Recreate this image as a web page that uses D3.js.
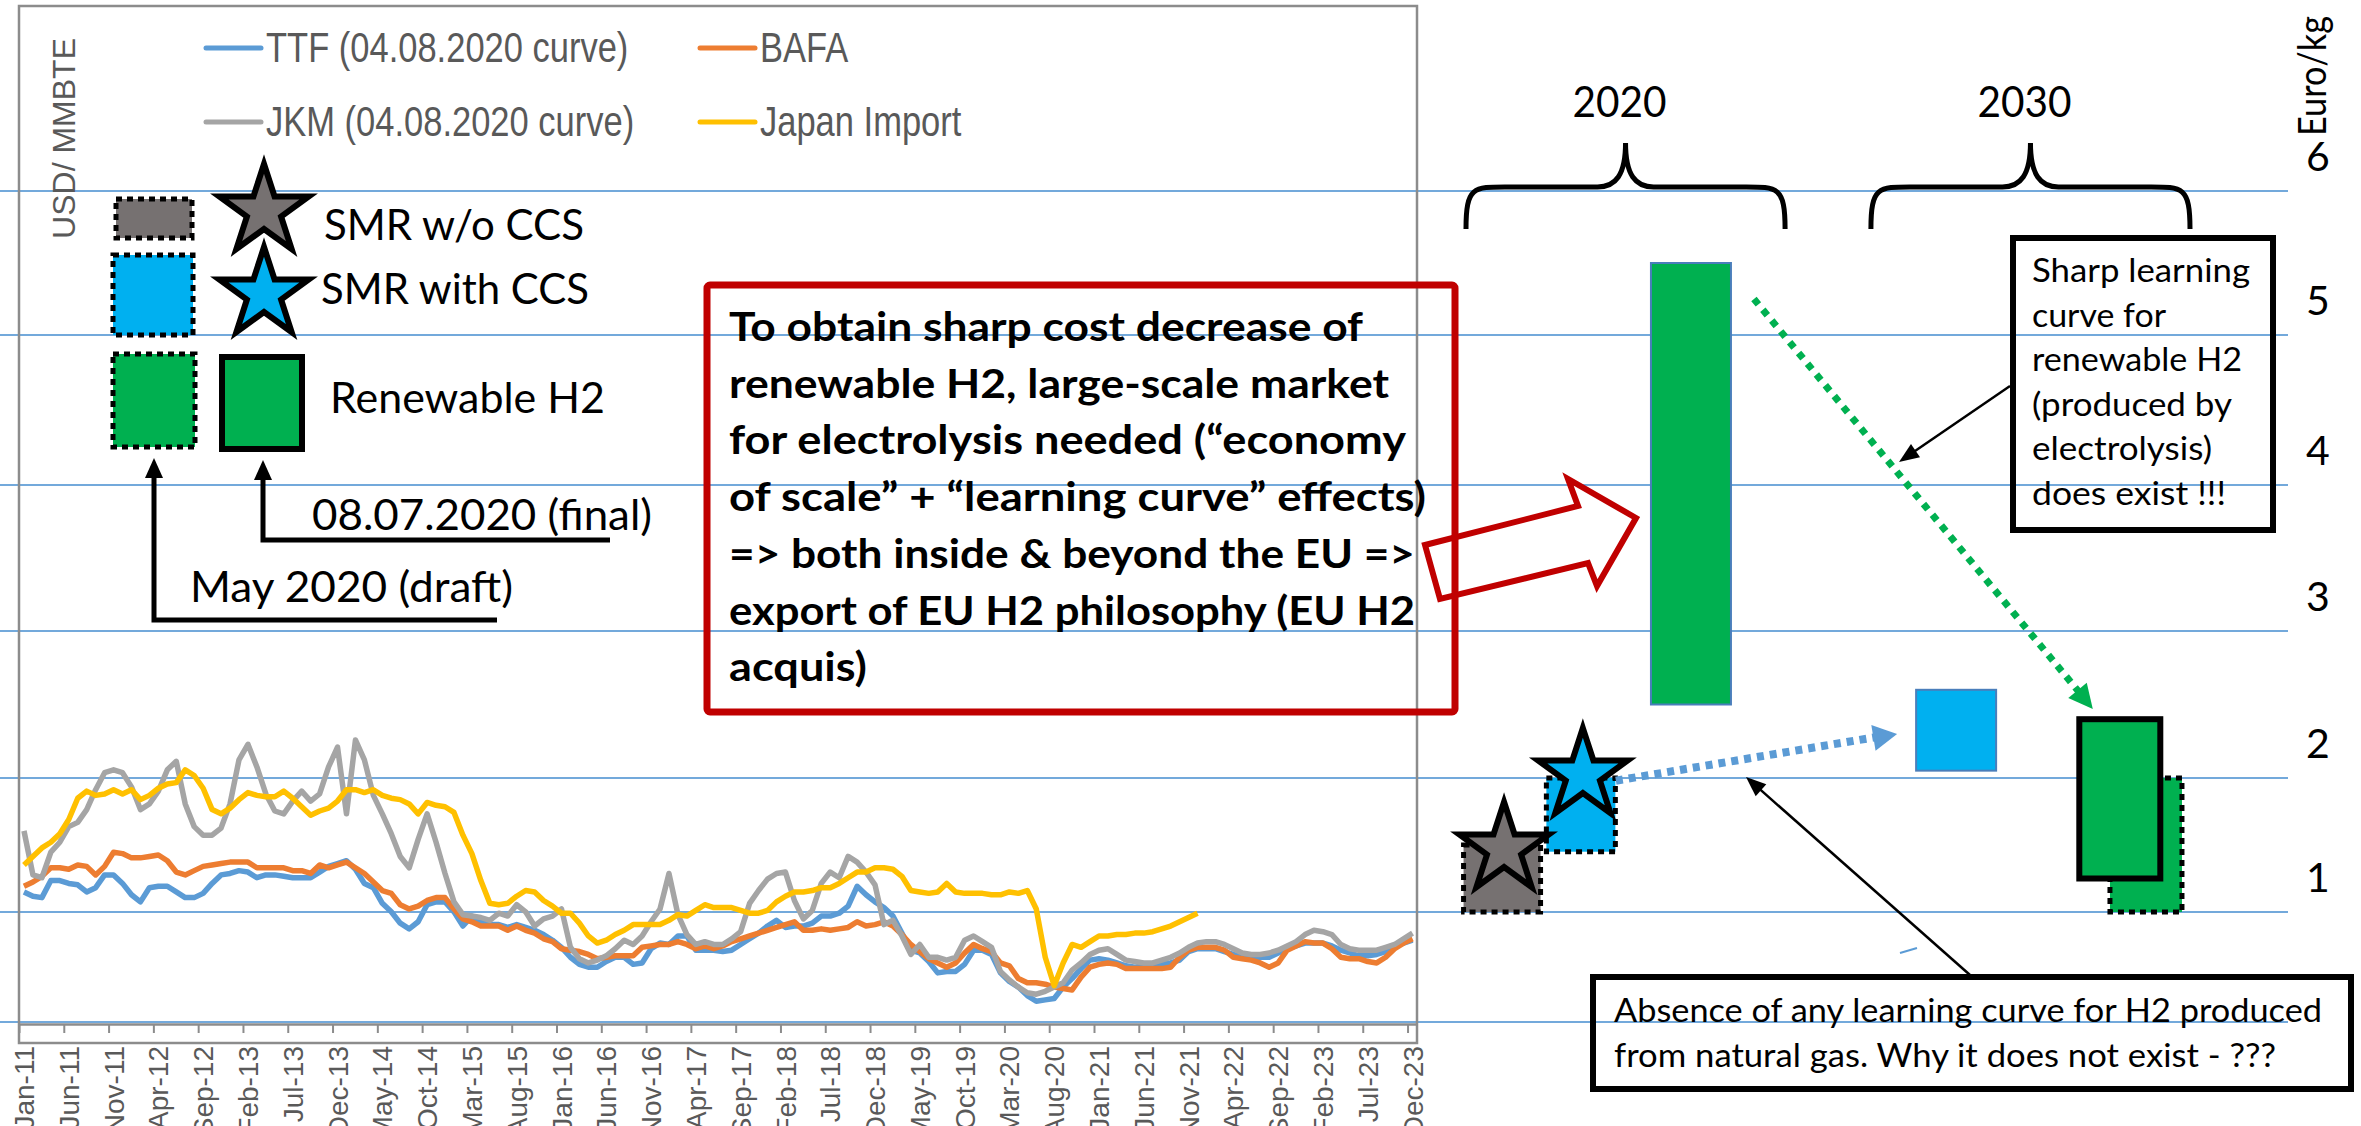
<!DOCTYPE html>
<html>
<head>
<meta charset="utf-8">
<script src="https://cdnjs.cloudflare.com/ajax/libs/d3/7.8.5/d3.min.js"></script>
<style>
  body { margin: 0; background: #fff; }
</style>
</head>
<body>
<div id="chart-area"></div>
<script>
/*
*    Gas prices (USD/MMBTU) vs. hydrogen cost ranges (Euro/kg)
*/

/* Data */
var monthNames = ["Jan","Feb","Mar","Apr","May","Jun","Jul","Aug","Sep","Oct","Nov","Dec"];
var tickLabels = ["Jan-11","Jun-11","Nov-11","Apr-12","Sep-12","Feb-13","Jul-13","Dec-13","May-14","Oct-14",
  "Mar-15","Aug-15","Jan-16","Jun-16","Nov-16","Apr-17","Sep-17","Feb-18","Jul-18","Dec-18","May-19","Oct-19",
  "Mar-20","Aug-20","Jan-21","Jun-21","Nov-21","Apr-22","Sep-22","Feb-23","Jul-23","Dec-23"];

// USD/MMBTU, monthly Jan-11 .. Dec-23
var ttf = [9.3,9.0,8.9,10.1,10.1,9.9,9.8,9.3,9.6,10.5, 10.5,9.9,9.1,8.6,9.6,9.7,9.7,9.3,8.9,8.9,
  9.2,9.9,10.5,10.6,10.8,10.7,10.3,10.5,10.5,10.4, 10.3,10.3,10.3,10.7,11.1,11.3,11.5,10.9,9.9,9.6,
  8.5,7.9,7.1,6.7,7.2,8.4,8.6,8.6,7.9,6.9, 7.6,7.2,7.0,7.0,6.8,7.0,
  6.8,6.6,6.3,5.9,5.4,4.7,4.2,4.0,4.0,4.4, 4.7,4.7,4.2,4.3,5.3,5.7,5.6,6.2,6.2,5.2,
  5.2,5.2,5.1,5.2,5.6,6.0,6.4,6.9,7.3,6.8, 6.9,6.9,7.1,7.6,7.6,7.8,8.3,9.7,9.1,8.6,
  8.2,7.6,6.4,5.2,5.0,4.4,3.6,3.7,3.7,4.2, 5.2,5.2,
  4.9,3.6,3.0,2.6,2.0,1.6,1.7,1.8,2.6,3.2, 3.9,4.5,4.6,4.5,4.3,4.1,4.0,4.1,4.2,4.2,
  4.3,4.5,5.1,5.3,5.3,5.3,5.1,4.9,4.7,4.7, 4.7,4.7,5.0,5.3,5.5,5.7,5.7,5.7,5.5,5.2,
  5.0,4.8,4.8,4.9,5.1,5.5,5.7,5.9];
var bafa = [9.7,10.0,10.4,11.0,11.0,10.9,11.2,11.1,10.5,11.1, 12.1,12.0,11.7,11.7,11.8,11.9,11.5,10.7,10.5,10.8,
  11.1,11.2,11.3,11.4,11.4,11.4,11.0,11.0,11.0,11.0, 10.8,10.8,10.6,11.2,11.0,11.2,11.4,11.0,10.6,10.0,
  9.4,9.2,8.4,8.1,8.3,8.7,8.9,8.9,8.1,7.4, 7.2,6.9,6.9,6.9,6.6,6.9,
  6.6,6.4,6.0,5.8,5.3,5.2,5.1,4.9,4.6,4.7, 4.8,4.8,4.8,5.4,5.5,5.6,5.6,5.8,5.6,5.3,
  5.5,5.3,5.5,5.8,6.0,6.2,6.4,6.6,6.8,7.0, 7.2,6.6,6.6,6.7,6.6,6.7,6.8,7.2,6.9,7.0,
  7.2,6.9,6.3,5.6,5.1,4.6,4.3,4.0,4.3,5.0, 5.6,5.3,
  5.1,4.3,4.1,3.2,2.9,2.9,2.8,2.6,2.5,2.4, 3.3,4.0,4.2,4.3,4.2,3.9,3.9,3.9,3.9,3.9,
  4.0,4.7,5.2,5.4,5.4,5.4,5.2,4.7,4.6,4.5, 4.3,4.0,4.3,5.2,5.5,5.8,5.7,5.7,5.3,4.7,
  4.6,4.6,4.4,4.3,4.7,5.3,5.7,6.0];
var jkm = [13.6,10.5,10.3,12.1,12.8,13.9,14.2,15.1,16.5,17.7, 17.9,17.7,16.7,15.1,15.5,16.4,17.9,18.5,15.5,13.9,
  13.3,13.3,13.8,15.5,18.6,19.7,18.1,16.2,15.0,14.8, 15.7,16.4,15.7,16.2,18.1,19.5,14.8,20.0,18.6,16.1,
  14.8,13.4,11.8,11.0,13.0,14.8,12.8,10.6,8.6,7.7, 7.6,7.5,7.3,7.8,7.6,8.4,
  7.9,6.9,7.4,7.6,8.1,5.4,4.6,4.3,4.5,4.8, 5.3,5.9,5.6,6.2,7.2,8.1,10.6,7.7,6.3,5.6,
  5.8,5.6,5.6,6.0,6.5,8.5,9.4,10.2,10.6,10.7, 8.7,7.4,8.0,9.9,10.7,10.3,11.8,11.4,10.7,9.8,
  7.0,7.3,6.2,4.9,5.6,4.7,4.7,4.5,4.7,5.9, 6.2,5.8,
  5.4,3.7,3.1,2.6,2.2,2.1,2.3,2.6,2.9,3.8, 4.3,4.9,5.2,5.3,4.9,4.5,4.4,4.3,4.3,4.5,
  4.7,5.0,5.4,5.7,5.8,5.8,5.6,5.3,5.0,4.9, 4.9,5.0,5.2,5.5,5.8,6.3,6.6,6.5,6.3,5.6,
  5.3,5.2,5.2,5.2,5.4,5.6,6.0,6.4];
var japanImport = [11.2,11.8,12.4,12.8,13.4,14.4,15.9,16.4,16.1,16.2, 16.5,16.2,16.5,15.8,16.1,16.6,16.9,17.0,17.9,17.5,
  16.6,15.1,14.8,15.2,15.8,16.3,16.1,16.0,16.0,16.4, 15.9,15.3,14.7,15.0,15.2,15.7,16.5,16.5,16.3,16.5,
  16.1,15.9,15.8,15.5,14.8,15.6,15.4,15.3,14.9,13.3, 12.0,10.1,8.5,8.4,8.5,9.0,
  9.4,9.3,8.7,8.3,7.8,7.8,7.1,6.2,5.7,5.9, 6.3,6.6,7.0,7.0,7.0,7.0,7.3,7.7,7.6,8.0,
  8.4,8.2,8.2,8.2,8.0,7.8,7.8,8.0,8.6,9.0, 9.3,9.3,9.4,9.6,9.6,9.9,10.3,10.7,10.7,11.0,
  11.0,10.9,10.4,9.4,9.3,9.2,9.3,9.9,9.3,9.2, 9.2,9.2,
  9.1,9.1,9.3,9.2,9.4,8.1,4.7,2.7,4.3,5.6, 5.4,5.8,6.2,6.2,6.3,6.3,6.4,6.4,6.5,6.7,
  6.9,7.2,7.5,7.8];

// Hydrogen cost ranges, Euro/kg
var euroTicks = [0, 1, 2, 3, 4, 5, 6];
var periods = ["2020", "2030"];
var costItem = ["SMR w/o CCS", "SMR with CCS", "Renewable H2", "SMR with CCS", "Renewable H2", "Renewable H2"];
var costPeriod = ["2020", "2020", "2020", "2030", "2030", "2030"];
var costVersion = ["draft", "draft", "plain", "plain", "draft", "final"];
var costLow = [1.0, 1.45, 2.5, 2.05, 1.0, 1.25];
var costHigh = [1.5, 2.0, 5.5, 2.6, 2.0, 2.4];
var starItem = ["SMR w/o CCS", "SMR with CCS"];
var starValue = [1.47, 2.02];


/* Canvas */
var calibri = 'Lato, "Open Sans", sans-serif';
var arial = '"Liberation Sans", Arial, sans-serif';

var svg = d3.select("#chart-area").append("svg")
  .attr("width", 2361)
  .attr("height", 1126)
  .attr("font-family", calibri);

var itemColor = {"SMR w/o CCS": "#767171", "SMR with CCS": "#00B0F0", "Renewable H2": "#00B050"};
var seriesColor = ["#5B9BD5", "#ED7D31", "#A5A5A5", "#FFC000"];


/* Scales */
var months = d3.range(156).map(i => monthNames[i % 12] + "-" + (11 + Math.floor(i / 12)));
var x = d3.scaleBand().domain(months).range([19.5, 1417]);
var y = d3.scaleLinear().domain([0, 70]).range([1024, 30]);
var euro = d3.scaleLinear().domain(euroTicks).range([1022, 912, 778, 631, 485, 335, 191]);
var period = d3.scaleBand().domain(periods).range([1466, 2190]).paddingInner(0.212);


/* Gridlines (Euro/kg) */
svg.append("g").selectAll("line").data(euroTicks).join("line")
  .attr("x1", 0).attr("x2", 2288)
  .attr("y1", d => euro(d)).attr("y2", d => euro(d))
  .attr("stroke", "#5B9BD5").attr("stroke-width", 2).attr("opacity", 0.85);

svg.append("g").selectAll("text").data(euroTicks.slice(1)).join("text")
  .attr("x", 2318).attr("y", d => euro(d) - 20)
  .attr("text-anchor", "middle").attr("font-size", 41)
  .text(d => d);

svg.append("text")
  .attr("transform", "translate(2326,136) rotate(-90)")
  .attr("font-size", 38)
  .attr("textLength", 120).attr("lengthAdjust", "spacingAndGlyphs")
  .text("Euro/kg");


/* Left chart: frame and X axis */
svg.append("rect")
  .attr("x", 19).attr("y", 6).attr("width", 1398).attr("height", 1037)
  .attr("fill", "none").attr("stroke", "#8c8c8c").attr("stroke-width", 2.5);

var xAxis = svg.append("g")
  .attr("transform", "translate(0,1024)")
  .call(d3.axisBottom(x).tickValues(tickLabels).tickSize(9).tickSizeOuter(0));
xAxis.attr("font-family", arial).attr("font-size", 28);
xAxis.select(".domain").attr("stroke", "#8c8c8c").attr("stroke-width", 2.5);
xAxis.selectAll(".tick line")
  .attr("x1", -x.bandwidth() / 2).attr("x2", -x.bandwidth() / 2)
  .attr("stroke", "#8c8c8c").attr("stroke-width", 2);
xAxis.selectAll(".tick text")
  .attr("transform", "rotate(-90)")
  .attr("x", -22).attr("y", 0).attr("dy", "0.36em")
  .attr("text-anchor", "end")
  .attr("fill", "#595959");

// Y label
svg.append("text")
  .attr("transform", "translate(75,38) rotate(-90)")
  .attr("text-anchor", "end")
  .attr("font-family", arial).attr("font-size", 32).attr("fill", "#595959")
  .text("USD/ MMBTE");


/* Price lines */
var series = [
  {name: "TTF (04.08.2020 curve)", values: ttf},
  {name: "BAFA", values: bafa},
  {name: "JKM (04.08.2020 curve)", values: jkm},
  {name: "Japan Import", values: japanImport}
];

var line = d3.line()
  .x((d, i) => x(months[i]) + x.bandwidth() / 2)
  .y(d => y(d));

svg.append("g").selectAll("path").data(series).join("path")
  .attr("d", d => line(d.values))
  .attr("fill", "none")
  .attr("stroke", (d, i) => seriesColor[i])
  .attr("stroke-width", 5.5)
  .attr("stroke-linejoin", "round");

// Legend (two columns)
var legendPos = [[206, 48], [700, 48], [206, 122], [700, 122]];
series.forEach((s, i) => {
  var row = svg.append("g").attr("transform", `translate(${legendPos[i][0]},${legendPos[i][1]})`);
  row.append("line")
    .attr("x1", 0).attr("x2", 55)
    .attr("stroke", seriesColor[i]).attr("stroke-width", 5).attr("stroke-linecap", "round");
  row.append("text")
    .attr("transform", "translate(60,14) scale(1,1.25)")
    .attr("font-family", arial).attr("font-size", 34.5).attr("fill", "#595959")
    .text(s.name);
});


/* Hydrogen symbol legend */
var star = d3.symbol().type(d3.symbolStar).size(2480);

function dotted(sel) {
  return sel.attr("stroke", "#000").attr("stroke-width", 5).attr("stroke-dasharray", "6,5");
}

var legend = svg.append("g");
dotted(legend.append("rect").attr("x", 116).attr("y", 199).attr("width", 76).attr("height", 39)
  .attr("fill", itemColor["SMR w/o CCS"]));
dotted(legend.append("rect").attr("x", 113).attr("y", 255).attr("width", 80).attr("height", 80)
  .attr("fill", itemColor["SMR with CCS"]));
dotted(legend.append("rect").attr("x", 113).attr("y", 354).attr("width", 82).attr("height", 93)
  .attr("fill", itemColor["Renewable H2"]));
legend.append("rect").attr("x", 222).attr("y", 357).attr("width", 80).attr("height", 92)
  .attr("fill", itemColor["Renewable H2"]).attr("stroke", "#000").attr("stroke-width", 6);

[["SMR w/o CCS", 211], ["SMR with CCS", 294]].forEach(d => {
  legend.append("path").attr("d", star)
    .attr("transform", `translate(264,${d[1]})`)
    .attr("fill", itemColor[d[0]]).attr("stroke", "#000").attr("stroke-width", 6)
    .attr("stroke-linejoin", "miter");
});

var legendText = [
  ["SMR w/o CCS", 324, 240, 260],
  ["SMR with CCS", 321, 304, 268],
  ["Renewable H2", 330, 413, 275],
  ["08.07.2020 (final)", 312, 530, 340],
  ["May 2020 (draft)", 190, 602, 323]
];
legend.selectAll("text").data(legendText).join("text")
  .attr("x", d => d[1]).attr("y", d => d[2])
  .attr("font-size", 42)
  .attr("textLength", d => d[3]).attr("lengthAdjust", "spacingAndGlyphs")
  .text(d => d[0]);

function head(x1, y1, x2, y2, len, half) {
  var a = Math.atan2(y2 - y1, x2 - x1);
  var bx = x2 - len * Math.cos(a), by = y2 - len * Math.sin(a);
  var px = -Math.sin(a) * half, py = Math.cos(a) * half;
  return [[x2, y2], [bx + px, by + py], [bx - px, by - py]].map(p => p.join(",")).join(" ");
}

// elbow arrows pointing to the legend boxes
[[610, 540, 263, 460], [497, 620, 154, 458]].forEach(a => {
  legend.append("path")
    .attr("d", `M${a[0]},${a[1]} H${a[2]} V${a[3] + 16}`)
    .attr("fill", "none").attr("stroke", "#000").attr("stroke-width", 5);
  legend.append("polygon")
    .attr("points", head(a[2], a[1], a[2], a[3], 20, 9))
    .attr("fill", "#000");
});


/* Red message box */
var msg = [
  ["To obtain sharp cost decrease of", 634],
  ["renewable H2, large-scale market", 660],
  ["for electrolysis needed (\u201ceconomy", 677],
  ["of scale\u201d + \u201clearning curve\u201d effects)", 697],
  ["=> both inside & beyond the EU =>", 686],
  ["export of EU H2 philosophy (EU H2", 686],
  ["acquis)", 138]
];
svg.append("polygon")
  .attr("points", "1425,545 1578,506 1568,479 1636,518 1597,586 1588,563 1440,599")
  .attr("fill", "none").attr("stroke", "#C00000").attr("stroke-width", 6).attr("stroke-linejoin", "miter");
svg.append("rect")
  .attr("x", 707).attr("y", 285).attr("width", 748).attr("height", 427).attr("rx", 3)
  .attr("fill", "none").attr("stroke", "#C00000").attr("stroke-width", 7);
svg.append("g").selectAll("text").data(msg).join("text")
  .attr("x", 729).attr("y", (d, i) => 341 + i * 56.7)
  .attr("font-size", 41).attr("font-weight", "bold")
  .attr("textLength", d => d[1]).attr("lengthAdjust", "spacingAndGlyphs")
  .text(d => d[0]);


/* Hydrogen cost boxes */
// position of each box inside its period band: centre fraction and width
var barLayout = [[0.113, 77], [0.36, 69], [0.705, 80], [0.267, 80], [0.862, 72], [0.78, 81]];
var costs = costItem.map((d, i) => ({
  item: d, period: costPeriod[i], version: costVersion[i], lo: costLow[i], hi: costHigh[i],
  cx: period(costPeriod[i]) + barLayout[i][0] * period.bandwidth(), w: barLayout[i][1]
}));

var bars = svg.append("g").selectAll("rect").data(costs).join("rect")
  .attr("x", d => d.cx - d.w / 2)
  .attr("width", d => d.w)
  .attr("y", d => euro(d.hi))
  .attr("height", d => euro(d.lo) - euro(d.hi))
  .attr("fill", d => itemColor[d.item]);
bars.filter(d => d.version === "draft").call(dotted);
bars.filter(d => d.version === "final").attr("stroke", "#000").attr("stroke-width", 6);
bars.filter(d => d.version === "plain").attr("stroke", "#4A7EBB").attr("stroke-width", 2);

svg.append("g").selectAll("path").data(starItem).join("path")
  .attr("d", star)
  .attr("transform", (d, i) => `translate(${costs[i].cx + 2},${euro(starValue[i])})`)
  .attr("fill", d => itemColor[d]).attr("stroke", "#000").attr("stroke-width", 6);


/* Period braces */
function brace(x0, x1, yTop, yMid, yEnd) {
  var xm = (x0 + x1) / 2;
  return `M${x0},${yEnd} C${x0},${yMid - 2} ${x0 + 8},${yMid} ${x0 + 45},${yMid} L${xm - 28},${yMid}` +
    ` C${xm - 10},${yMid} ${xm},${yMid - 12} ${xm},${yTop}` +
    ` C${xm},${yMid - 12} ${xm + 10},${yMid} ${xm + 28},${yMid} L${x1 - 45},${yMid}` +
    ` C${x1 - 8},${yMid} ${x1},${yMid - 2} ${x1},${yEnd}`;
}
periods.forEach(p => {
  var x0 = period(p), x1 = x0 + period.bandwidth();
  svg.append("path").attr("d", brace(x0, x1, 143, 187, 229))
    .attr("fill", "none").attr("stroke", "#000").attr("stroke-width", 5);
  svg.append("text")
    .attr("x", (x0 + x1) / 2 - 6).attr("y", 117)
    .attr("text-anchor", "middle").attr("font-size", 43)
    .attr("textLength", 94).attr("lengthAdjust", "spacingAndGlyphs")
    .text(p);
});


/* Trend arrows */
var green = costs[2], blue = costs[3], greenFinal = costs[5];
var gA = [green.cx + 63, euro(5.25), greenFinal.cx - 27, euro(2.47)];
svg.append("line")
  .attr("x1", gA[0]).attr("y1", gA[1])
  .attr("x2", gA[2] - 20 * 0.63).attr("y2", gA[3] - 20 * 0.77)
  .attr("stroke", "#00B050").attr("stroke-width", 7).attr("stroke-dasharray", "7,7");
svg.append("polygon").attr("points", head(gA[0], gA[1], gA[2], gA[3], 24, 12)).attr("fill", "#00B050");

var bA = [costs[1].cx + 35, euro(1.98), blue.cx - 59, euro(2.3)];
svg.append("line")
  .attr("x1", bA[0]).attr("y1", bA[1])
  .attr("x2", bA[2] - 20).attr("y2", bA[3] + 3)
  .attr("stroke", "#5B9BD5").attr("stroke-width", 8).attr("stroke-dasharray", "7,6");
svg.append("polygon").attr("points", head(bA[0], bA[1], bA[2], bA[3], 24, 13)).attr("fill", "#5B9BD5");

svg.append("line")
  .attr("x1", 1900).attr("y1", 953).attr("x2", 1917).attr("y2", 948)
  .attr("stroke", "#5B9BD5").attr("stroke-width", 2);


/* Comment boxes */
var sharp = ["Sharp learning", "curve for", "renewable H2", "(produced by", "electrolysis)", "does exist !!!"];
var sharpW = [218, 134, 210, 200, 180, 194];
svg.append("rect")
  .attr("x", 2013).attr("y", 238).attr("width", 260).attr("height", 292)
  .attr("fill", "none").attr("stroke", "#000").attr("stroke-width", 6);
svg.append("g").selectAll("text").data(sharp).join("text")
  .attr("x", 2032).attr("y", (d, i) => 282 + i * 44.6)
  .attr("font-size", 33)
  .attr("textLength", (d, i) => sharpW[i]).attr("lengthAdjust", "spacingAndGlyphs")
  .text(d => d);

var absence = ["Absence of any learning curve for H2 produced", "from natural gas. Why it does not exist - ???"];
var absenceW = [708, 662];
svg.append("rect")
  .attr("x", 1593).attr("y", 977).attr("width", 758).attr("height", 112)
  .attr("fill", "none").attr("stroke", "#000").attr("stroke-width", 6);
svg.append("g").selectAll("text").data(absence).join("text")
  .attr("x", 1614).attr("y", (d, i) => 1022 + i * 45)
  .attr("font-size", 33)
  .attr("textLength", (d, i) => absenceW[i]).attr("lengthAdjust", "spacingAndGlyphs")
  .text(d => d);

// thin pointers
[[2010, 386, 1899, 462], [1970, 975, 1746, 777]].forEach(a => {
  var ang = Math.atan2(a[3] - a[1], a[2] - a[0]);
  svg.append("line")
    .attr("x1", a[0]).attr("y1", a[1])
    .attr("x2", a[2] - 15 * Math.cos(ang)).attr("y2", a[3] - 15 * Math.sin(ang))
    .attr("stroke", "#000").attr("stroke-width", 2.5);
  svg.append("polygon").attr("points", head(a[0], a[1], a[2], a[3], 20, 8)).attr("fill", "#000");
});

</script>
</body>
</html>
